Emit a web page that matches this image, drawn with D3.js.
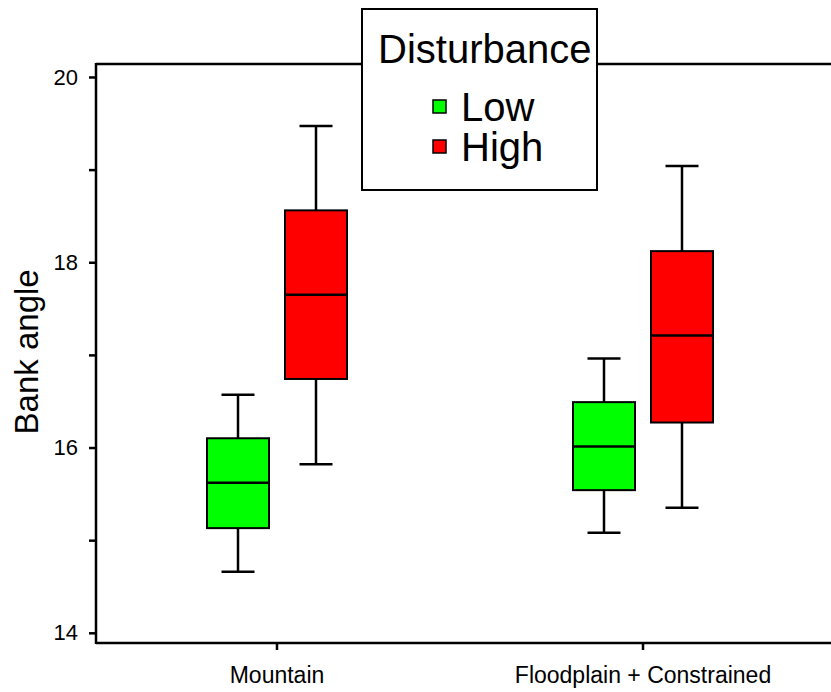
<!DOCTYPE html>
<html>
<head>
<meta charset="utf-8">
<script src="https://cdn.jsdelivr.net/npm/d3@7"></script>
<style>
  body { margin: 0; background: #fff; }
  svg { display: block; font-family: "Liberation Sans", Arial, sans-serif; }
</style>
</head>
<body>
<svg id="chart" width="831" height="692"></svg>
<script>
// Site types along the x axis and disturbance levels within each
const categories = ["Mountain", "Floodplain + Constrained"];
const groups = ["Low", "High"];
const groupColors = ["#00ff00", "#ff0000"];

// Five-number summaries: [lower whisker, Q1, median, Q3, upper whisker]
const mountainLow = [14.66, 15.13, 15.62, 16.10, 16.57];
const mountainHigh = [15.82, 16.74, 17.65, 18.56, 19.47];
const floodplainLow = [15.08, 15.54, 16.01, 16.49, 16.96];
const floodplainHigh = [15.35, 16.27, 17.21, 18.12, 19.04];

// Y axis ticks (labels on even values only)
const yTicks = [14, 15, 16, 17, 18, 19, 20];
const yTickLabels = ["14", "", "16", "", "18", "", "20"];

const yLabel = "Bank angle";
const legendTitle = "Disturbance";

const boxes = [
  { cat: categories[0], grp: groups[0], s: mountainLow },
  { cat: categories[0], grp: groups[1], s: mountainHigh },
  { cat: categories[1], grp: groups[0], s: floodplainLow },
  { cat: categories[1], grp: groups[1], s: floodplainHigh }
];

const svg = d3.select("#chart");
const W = 831, H = 692;
const plotLeft = 96, plotTop = 64, plotBottom = 643;

const y = d3.scaleLinear().domain([13.89, 20.14]).range([plotBottom, plotTop]);
const x = d3.scaleBand().domain(categories).range([94, 826]);
const xInner = d3.scalePoint().domain(groups).range([-39, 39]);
const color = d3.scaleOrdinal().domain(groups).range(groupColors);

const boxW = 62, capW = 33;

// Plot frame
const frame = svg.append("g").attr("stroke", "#000").attr("stroke-width", 2.5).attr("fill", "none");
frame.append("line").attr("x1", plotLeft).attr("x2", plotLeft).attr("y1", plotTop - 1).attr("y2", plotBottom + 1);
frame.append("line").attr("x1", plotLeft).attr("x2", W).attr("y1", plotTop).attr("y2", plotTop);
frame.append("line").attr("x1", plotLeft).attr("x2", W).attr("y1", plotBottom).attr("y2", plotBottom);

// Y axis
const yAxis = svg.append("g")
  .attr("transform", `translate(${plotLeft},0)`)
  .call(d3.axisLeft(y).tickValues(yTicks).tickSize(7).tickPadding(11)
    .tickFormat((d, i) => yTickLabels[i]));
yAxis.select(".domain").remove();
yAxis.selectAll(".tick line").attr("stroke", "#000").attr("stroke-width", 2.5);
yAxis.selectAll(".tick text").attr("font-size", 22).attr("fill", "#000")
  .attr("font-family", "Liberation Sans, Arial, sans-serif");

// X axis
const xAxis = svg.append("g")
  .attr("transform", `translate(0,${plotBottom})`)
  .call(d3.axisBottom(x).tickSize(7));
xAxis.select(".domain").remove();
xAxis.selectAll(".tick line").attr("stroke", "#000").attr("stroke-width", 2.5);
xAxis.selectAll(".tick text").attr("font-size", 23).attr("fill", "#000")
  .attr("y", 40).attr("dy", 0)
  .attr("font-family", "Liberation Sans, Arial, sans-serif");

// Y axis title
svg.append("text")
  .attr("transform", `translate(38,${(y(14) + y(20)) / 2 - 3}) rotate(-90)`)
  .attr("text-anchor", "middle")
  .attr("font-size", 33)
  .attr("fill", "#000")
  .text(yLabel);

// Box plots
const bg = svg.append("g").selectAll("g").data(boxes).join("g")
  .attr("transform", d => `translate(${x(d.cat) + x.bandwidth() / 2 + xInner(d.grp)},0)`);

bg.append("line") // whisker stem
  .attr("x1", 0).attr("x2", 0)
  .attr("y1", d => y(d.s[0])).attr("y2", d => y(d.s[4]))
  .attr("stroke", "#000").attr("stroke-width", 2.5);
bg.selectAll(".cap").data(d => [d.s[0], d.s[4]]).join("line")
  .attr("class", "cap")
  .attr("x1", -capW / 2).attr("x2", capW / 2)
  .attr("y1", v => y(v)).attr("y2", v => y(v))
  .attr("stroke", "#000").attr("stroke-width", 2.5);
bg.append("rect")
  .attr("x", -boxW / 2).attr("width", boxW)
  .attr("y", d => y(d.s[3])).attr("height", d => y(d.s[1]) - y(d.s[3]))
  .attr("fill", d => color(d.grp))
  .attr("stroke", "#000").attr("stroke-width", 2);
bg.append("line") // median
  .attr("x1", -boxW / 2).attr("x2", boxW / 2)
  .attr("y1", d => y(d.s[2])).attr("y2", d => y(d.s[2]))
  .attr("stroke", "#000").attr("stroke-width", 2.5);

// Legend
const lg = svg.append("g");
lg.append("rect")
  .attr("x", 362).attr("y", 9).attr("width", 235).attr("height", 181)
  .attr("fill", "#fff").attr("stroke", "#000").attr("stroke-width", 2);
lg.append("text")
  .attr("x", 378).attr("y", 63)
  .attr("font-size", 40).attr("fill", "#000")
  .text(legendTitle);
const items = lg.selectAll(".item").data(groups).join("g")
  .attr("class", "item")
  .attr("transform", (d, i) => `translate(433,${100 + i * 40})`);
items.append("rect")
  .attr("width", 13).attr("height", 13)
  .attr("fill", d => color(d))
  .attr("stroke", "#000").attr("stroke-width", 1.5);
items.append("text")
  .attr("x", 28).attr("y", 21)
  .attr("font-size", 40).attr("fill", "#000")
  .text(d => d);
</script>
</body>
</html>
